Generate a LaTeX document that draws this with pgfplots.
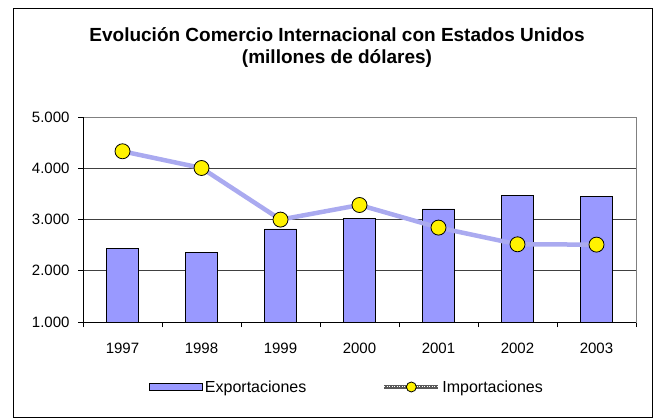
\documentclass[border=0pt]{standalone}
\usepackage{fontspec}
\setmainfont{Liberation Sans}
\usepackage{pgfplots}
\pgfplotsset{compat=1.18}
\definecolor{barfill}{RGB}{153,153,255}
\definecolor{linecol}{RGB}{170,170,240}
\definecolor{gridc}{RGB}{64,64,64}
\begin{document}
\begin{tikzpicture}
\useasboundingbox (0pt,0pt) rectangle (655pt,418pt);
\draw[black, line width=1pt] (13pt,409pt) rectangle (652pt,1pt);
\node[font=\fontsize{19}{22}\selectfont\bfseries, anchor=base] at (337pt,376.3pt)
  {Evolución Comercio Internacional con Estados Unidos};
\node[font=\fontsize{19}{22}\selectfont\bfseries, anchor=base] at (337pt,354.7pt)
  {(millones de dólares)};
\begin{axis}[
  at={(83pt,96pt)}, anchor=south west,
  scale only axis, width=553pt, height=205pt,
  xmin=-0.5, xmax=6.5, ymin=1000, ymax=5000,
  xtick={0,1,2,3,4,5,6},
  xticklabels={1997,1998,1999,2000,2001,2002,2003},
  minor xtick={-0.5,0.5,1.5,2.5,3.5,4.5,5.5,6.5},
  ytick={1000,2000,3000,4000,5000},
  xtick pos=bottom, ytick pos=left,
  major x tick style={draw=none},
  tick align=outside,
  major tick length=5pt, minor tick length=5pt,
  tick style={black, line width=0.8pt},
  ymajorgrids, grid style={gridc, line width=0.9pt},
  axis line style={draw=gray, line width=0.8pt},
  tick label style={font=\fontsize{15}{17}\selectfont},
  xticklabel style={yshift=-12pt},
  yticklabel style={xshift=-5pt},
  /pgf/number format/.cd, 1000 sep={.}, assume math mode=true,
  /pgfplots/.cd,
  clip=false,
  legend style={at={(axis description cs:0.1193,-0.317)}, anchor=west,
    draw=none, fill=none, inner sep=0pt,
    font=\fontsize{16}{18}\selectfont,
    nodes={inner sep=2pt},
    /tikz/every even column/.append style={column sep=74pt}},
  legend columns=2,
]
\addplot[ybar, bar width=32pt, fill=barfill, draw=black, line width=0.8pt,
  legend image code/.code={\draw[fill=barfill,draw=black,line width=0.8pt] (0pt,-3.5pt) rectangle (53pt,3.5pt);}]
  coordinates {(0,2440) (1,2360) (2,2815) (3,3017) (4,3205) (5,3478) (6,3447)};
\addlegendentry{Exportaciones}
\addplot[linecol, line width=4.5pt, mark=*, mark size=7.5pt,
  mark options={fill=yellow, draw=black, line width=0.8pt},
  legend image code/.code={
    \draw[black!65, line width=4pt] (0pt,0pt) -- (54pt,0pt);
    \draw[white, line width=1pt, dash pattern=on 1pt off 1.5pt] (0pt,0pt) -- (54pt,0pt);
    \fill[yellow, draw=black, line width=0.8pt] (27pt,0pt) circle (5pt);}]
  coordinates {(0,4331) (1,4005) (2,2998) (3,3283) (4,2842) (5,2516) (6,2510)};
\addlegendentry{Importaciones}
\draw[black, line width=0.9pt] (rel axis cs:0,1) -- (rel axis cs:0,0) -- (rel axis cs:1,0);
\end{axis}
\end{tikzpicture}
\end{document}
